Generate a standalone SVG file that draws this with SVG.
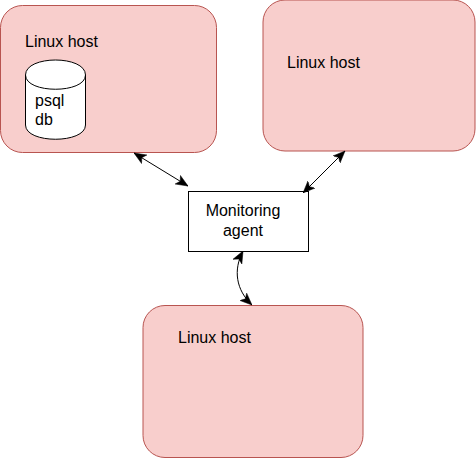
<svg xmlns="http://www.w3.org/2000/svg" width="476" height="459" viewBox="0 0 476 459">
<style>
.host{fill:#f8cecc;stroke:#b85450;stroke-width:1}
.t{font-family:"Liberation Sans",Arial,sans-serif;font-size:16px;fill:#000}
.c{fill:none;stroke:#000;stroke-width:1;marker-start:url(#a);marker-end:url(#a)}
</style>
<defs><marker id="a" viewBox="0 0 12 12" refX="12" refY="6" markerWidth="12" markerHeight="12" orient="auto-start-reverse" markerUnits="userSpaceOnUse"><path d="M0 1L12 6L0 11L3 6Z" fill="#000" stroke="#000" stroke-width="0.5"/></marker></defs>
<rect width="476" height="459" fill="#fff"/>
<g id="host1"><rect class="host" x="0.5" y="5.5" width="216" height="147" rx="22"/><text class="t" x="25" y="47">Linux host</text></g>
<g id="db"><path d="M25.5 75V125C25.5 144 85.5 144 85.5 125V75C85.5 55 25.5 55 25.5 75C25.5 94 85.5 94 85.5 75" fill="#fff" stroke="#000" stroke-width="1"/><text class="t" x="35" y="106">psql</text><text class="t" x="35" y="125">db</text></g>
<g id="host2"><rect class="host" x="263" y="0" width="212" height="151" rx="22"/><text class="t" x="287" y="68">Linux host</text></g>
<g id="agent"><rect x="188.500" y="191.500" width="120" height="60" fill="#fff" stroke="#000"/><text class="t" x="243" y="216" text-anchor="middle">Monitoring</text><text class="t" x="243" y="236" text-anchor="middle">agent</text></g>
<g id="host3"><rect class="host" x="143" y="305.500" width="220" height="152" rx="22"/><text class="t" x="178" y="343">Linux host</text></g>
<g id="connectors"><path class="c" d="M134 153L188 186"/><path class="c" d="M345 151L303 193"/><path class="c" d="M243 251C233 270 236 290 252 305"/></g>
</svg>
